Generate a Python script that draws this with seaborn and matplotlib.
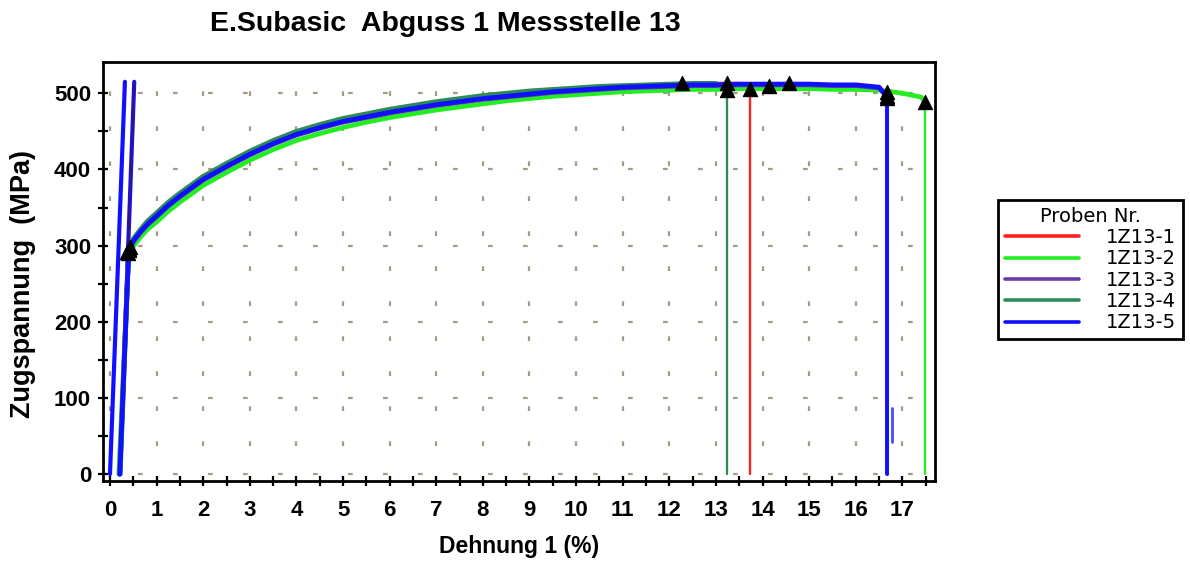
import numpy as np
import pandas as pd
import matplotlib
matplotlib.use("Agg")
import matplotlib.pyplot as plt
from matplotlib.lines import Line2D
from matplotlib.ticker import MultipleLocator
import seaborn as sns

# ---- data -------------------------------------------------------------
probes = ["1Z13-1", "1Z13-2", "1Z13-3", "1Z13-4", "1Z13-5"]
colors = ["#ff2020", "#22ee22", "#6a3aa8", "#2e8b57", "#1010ff"]

# strain knots (%) shared by all plastic curves
strain = [0.40, 0.50, 0.65, 0.80, 1.0, 1.25, 1.5, 1.75, 2.0, 2.5, 3.0, 3.5,
          4.0, 4.5, 5.0, 5.5, 6.0, 6.5, 7.0, 7.5, 8.0, 8.5, 9.0, 9.5, 10.0,
          10.5, 11.0, 11.5, 12.0, 12.5, 13.0, 13.5, 14.0, 14.5, 15.0, 15.5,
          16.0, 16.5, 17.0, 17.4]

# stress (MPa) per specimen at the strain knots, up to fracture
stress_1 = [293, 307, 319, 329, 340, 354, 366, 377, 388, 405, 421, 435, 447,
            456, 464, 470, 476, 481, 486, 490, 494, 497, 500, 503, 505, 507,
            509, 510, 511, 512, 512, 512]
stress_2 = [288, 299, 311, 321, 331, 345, 357, 368, 379, 396, 412, 426, 438,
            447, 455, 462, 468, 473, 478, 482, 486, 490, 493, 496, 498, 500,
            502, 503, 504, 505, 505, 506, 506, 506, 506, 505, 505, 504, 500,
            495]
stress_3 = [291, 305, 317, 327, 338, 352, 364, 375, 386, 403, 419, 433, 445,
            454, 462, 468, 474, 479, 484, 488, 492, 495, 498, 501, 503, 505,
            507, 508, 509, 510, 510, 511, 511, 511, 511, 510, 510, 507]
stress_4 = [294, 309, 321, 332, 343, 357, 369, 380, 391, 408, 424, 438, 450,
            459, 467, 473, 479, 484, 489, 493, 497, 500, 503, 505, 507, 509,
            510, 511, 512, 513, 513]
stress_5 = [292, 306, 318, 328, 339, 353, 365, 376, 387, 404, 420, 434, 446,
            455, 463, 469, 475, 480, 485, 489, 493, 496, 499, 502, 504, 506,
            508, 509, 510, 511, 511, 512, 512, 512, 512, 511, 511, 508]
stress = [stress_1, stress_2, stress_3, stress_4, stress_5]

# start of the loading line and fracture point per specimen
load_start = [0.20, 0.19, 0.21, 0.22, 0.21]
break_strain = [13.73, 17.49, 16.66, 13.23, 16.68]
break_stress = [505, 489, 497, 504, 494]

# yield points and tensile-strength points
yield_strain = [0.41, 0.38, 0.43, 0.36, 0.40]
yield_stress = [294, 290, 298, 292, 296]
rm_strain = [13.23, 16.67, 14.57, 12.27, 14.14]
rm_stress = [514, 501, 513, 513, 510]

# modulus lines (start strain, end strain, top stress)
hooke_start = [0.0, 0.21]
hooke_end = [0.32, 0.52]
hooke_top = 515

# short spring-back fragment of specimen 5 after fracture
tail_strain = [16.78, 16.78]
tail_stress = [42, 87]

# ---- build long table -------------------------------------------------
curve_rows = []
for name, x0, s, bx, by in zip(probes, load_start, stress, break_strain, break_stress):
    xs = [x0] + strain[:len(s)] + [bx]
    ys = [0] + s + [by]
    for i, (x, y) in enumerate(zip(xs, ys)):
        curve_rows.append((name, i, x, y))
curves = pd.DataFrame(curve_rows, columns=["probe", "idx", "strain", "stress"])

# ---- style ------------------------------------------------------------
sns.set_theme(style="white")
plt.rcParams["font.family"] = ["Liberation Sans", "DejaVu Sans"]
plt.rcParams["lines.scale_dashes"] = False
for key in ["text.color", "axes.labelcolor", "xtick.color", "ytick.color"]:
    plt.rcParams[key] = "black"

fig = plt.figure(figsize=(11.9, 5.76), dpi=100)
ax = fig.add_axes([103 / 1190, 1 - 481 / 576, (935 - 103) / 1190, (481 - 62) / 576])

palette = dict(zip(probes, colors))
raw = dict(estimator=None, sort=False, legend=False, ax=ax, zorder=3)

# modulus lines
for x0, x1 in zip(hooke_start, hooke_end):
    sns.lineplot(x=[x0, x1], y=[0, hooke_top], color="#1010ff", lw=3, **raw)
sns.lineplot(x=[hooke_start[1], hooke_end[1]], y=[0, hooke_top], color="#3a1470",
             lw=1.3, **raw)

# stress-strain curves
sns.lineplot(data=curves, x="strain", y="stress", hue="probe", hue_order=probes,
             palette=palette, units="probe", lw=3.4, **raw)

# fracture drops down to zero load
drop_width = {"1Z13-1": 1.7, "1Z13-2": 1.7, "1Z13-3": 2.0, "1Z13-4": 1.7, "1Z13-5": 2.8}
for name, bx, by in zip(probes, break_strain, break_stress):
    sns.lineplot(x=[bx, bx], y=[by, 0], color=palette[name],
                 lw=drop_width[name], **raw)
sns.lineplot(x=tail_strain, y=tail_stress, color="#4a4aff", lw=2.0, **raw)

sns.scatterplot(x=yield_strain + rm_strain + break_strain,
                y=yield_stress + rm_stress + break_stress,
                marker="^", color="black", edgecolor="black", s=105,
                ax=ax, zorder=5, legend=False)

# ---- axes -------------------------------------------------------------
ax.set_xlim(-0.15, 17.7)
ax.set_ylim(-9, 541)
ax.xaxis.set_major_locator(MultipleLocator(1))
ax.xaxis.set_minor_locator(MultipleLocator(0.5))
ax.yaxis.set_major_locator(MultipleLocator(100))
ax.yaxis.set_minor_locator(MultipleLocator(50))
ax.tick_params(which="both", direction="inout", length=7, width=1.6,
               color="black", bottom=True, left=True)
ax.tick_params(axis="x", which="major", pad=10, labelsize=16)
ax.tick_params(axis="y", which="major", pad=5, labelsize=16)
for lab in ax.get_xticklabels() + ax.get_yticklabels():
    lab.set_fontweight("bold")

for sp in ax.spines.values():
    sp.set_visible(True)
    sp.set_color("black")
    sp.set_linewidth(2)

ax.grid(True, which="major", color="#a59c88", linewidth=1.6,
        linestyle=(0, (3.4, 21.8)))
ax.set_axisbelow(True)

ax.set_xlabel("Dehnung 1 (%)", fontsize=16.5, fontweight="bold", labelpad=10)
ax.set_ylabel("Zugspannung  (MPa)", fontsize=19.5, fontweight="bold")
ax.yaxis.set_label_coords((36 - 103) / 832, 0.47)

fig.text(445 / 1190, 1 - 24 / 576, "E.Subasic  Abguss 1 Messstelle 13",
         fontsize=20.5, fontweight="bold", ha="center", va="center")

# ---- legend -----------------------------------------------------------
handles = [Line2D([0], [0], color=c, lw=2.6) for c in colors]
leg = fig.legend(handles, probes, title="Proben Nr.", loc="upper left",
                 bbox_to_anchor=(998 / 1190, 1 - 200 / 576), borderaxespad=0,
                 fancybox=False, framealpha=1, edgecolor="black",
                 prop={"family": "DejaVu Sans", "size": 14},
                 title_fontproperties={"family": "DejaVu Sans", "size": 14},
                 handlelength=3.8, handletextpad=1.4, labelspacing=0.12,
                 borderpad=0.35)
leg.get_frame().set_linewidth(2)

fig.savefig("out.png", dpi=100)
